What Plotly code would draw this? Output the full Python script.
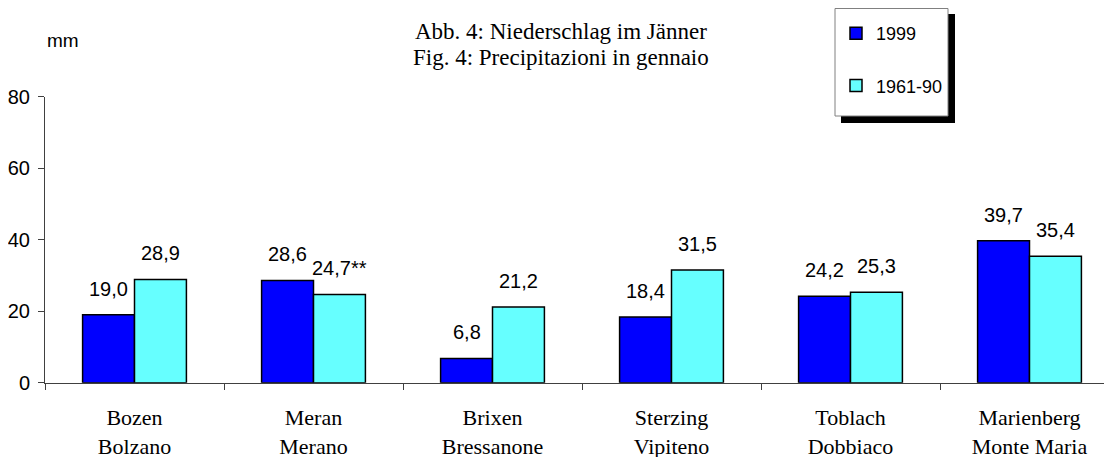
import plotly.graph_objects as go

# ---- data ----
categories = ["Bozen<br>Bolzano", "Meran<br>Merano", "Brixen<br>Bressanone",
              "Sterzing<br>Vipiteno", "Toblach<br>Dobbiaco", "Marienberg<br>Monte Maria"]
values_1999 = [19.0, 28.6, 6.8, 18.4, 24.2, 39.7]
values_norm = [28.9, 24.7, 21.2, 31.5, 25.3, 35.4]
labels_1999 = ["19,0", "28,6", "6,8", "18,4", "24,2", "39,7"]
labels_norm = ["28,9", "24,7**", "21,2", "31,5", "25,3", "35,4"]
series_names = ["1999", "1961-90"]
y_ticks = [0, 20, 40, 60, 80]

W, H = 1112, 457
OFF = 8  # page body margin of the html page
BARGAP = 0.42
bar_w = (1 - BARGAP) / 2


def px_x(p):
    return (p - OFF) / W


def px_y(p):
    return 1 - (p - OFF) / H


x_dom = [px_x(45), 1.0]
y_dom = [px_y(382.7), px_y(96.7)]
cat_px = 179.0
x_range = [-0.5, -0.5 + (W - (45 - OFF)) / cat_px]

SANS = "Liberation Sans, Arial, sans-serif"
SERIF = "Liberation Serif, Times New Roman, serif"

fig = go.Figure()
fig.add_trace(go.Bar(x=categories, y=values_1999, name=series_names[0],
                     marker=dict(color="#0000FF", line=dict(color="black", width=1.5)),
                     legendgroup="a"))
fig.add_trace(go.Bar(x=categories, y=values_norm, name=series_names[1],
                     marker=dict(color="#66FFFF", line=dict(color="black", width=1.5)),
                     legendgroup="b"))

annotations = []
for i in range(len(categories)):
    for vals, labs, off in ((values_1999, labels_1999, -bar_w / 2),
                            (values_norm, labels_norm, bar_w / 2)):
        annotations.append(dict(x=i + off, y=vals[i], xref="x", yref="y",
                                text=labs[i], showarrow=False, yanchor="bottom",
                                xanchor="center", yshift=13,
                                font=dict(family=SANS, size=20, color="black")))
annotations.append(dict(x=px_x(45), y=px_y(40), xref="paper", yref="paper",
                        text="mm", showarrow=False, xanchor="left", yanchor="middle",
                        font=dict(family=SANS, size=19, color="black")))
annotations.append(dict(x=px_x(561), y=px_y(31), xref="paper", yref="paper",
                        text="Abb. 4: Niederschlag im Jänner", showarrow=False,
                        xanchor="center", yanchor="middle",
                        font=dict(family=SERIF, size=23, color="black")))
annotations.append(dict(x=px_x(561), y=px_y(57), xref="paper", yref="paper",
                        text="Fig. 4: Precipitazioni in gennaio", showarrow=False,
                        xanchor="center", yanchor="middle",
                        font=dict(family=SERIF, size=23, color="black")))

# legend frame with drop shadow
shapes = [
    dict(type="rect", xref="paper", yref="paper",
         x0=px_x(841), x1=px_x(955), y0=px_y(123), y1=px_y(14),
         fillcolor="black", line=dict(width=0), layer="above"),
    dict(type="rect", xref="paper", yref="paper",
         x0=px_x(835), x1=px_x(948), y0=px_y(116), y1=px_y(8.5),
         fillcolor="white", line=dict(color="#808080", width=1), layer="above"),
]

fig.update_layout(
    width=W, height=H,
    margin=dict(l=0, r=0, t=0, b=0, autoexpand=False),
    paper_bgcolor="white", plot_bgcolor="white",
    barmode="group", bargap=BARGAP, bargroupgap=0,
    showlegend=True,
    legend=dict(x=px_x(836), y=px_y(15), xanchor="left", yanchor="top",
                bgcolor="rgba(0,0,0,0)", borderwidth=0,
                font=dict(family=SANS, size=18, color="black"),
                traceorder="grouped", tracegroupgap=26),
    xaxis=dict(domain=x_dom, range=x_range, type="category", automargin=False,
               showline=True, linecolor="#404040", linewidth=1,
               tickson="boundaries", ticks="outside", ticklen=6, tickcolor="#404040",
               showgrid=False, zeroline=False,
               tickfont=dict(family=SERIF, size=22, color="black"),
               ticklabelstandoff=15),
    xaxis2=dict(domain=x_dom, range=x_range, overlaying="x", anchor="y", automargin=False,
                tickvals=[k + 0.5 for k in range(len(categories))],
                ticks="inside", ticklen=6, tickcolor="#404040",
                showticklabels=False, showgrid=False, zeroline=False, showline=False),
    yaxis=dict(domain=y_dom, range=[0, 80], tickvals=y_ticks, automargin=False,
               showline=True, linecolor="#404040", linewidth=1,
               ticks="outside", ticklen=6, tickcolor="#404040",
               showgrid=False, zeroline=False,
               tickfont=dict(family=SANS, size=20, color="black"),
               ticklabelstandoff=4),
    yaxis2=dict(domain=y_dom, range=[0, 80], tickvals=y_ticks, overlaying="y",
                anchor="x", ticks="inside", ticklen=6, tickcolor="#404040", automargin=False,
                showticklabels=False, showgrid=False, zeroline=False, showline=False),
    annotations=annotations,
    shapes=shapes,
)

fig.write_html("out.html")
